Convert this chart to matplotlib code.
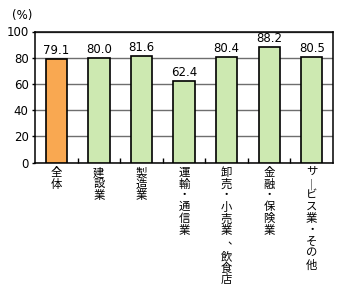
import matplotlib
matplotlib.use("Agg")
import matplotlib.pyplot as plt
import matplotlib.transforms as mtransforms

plt.rcParams['font.family'] = ['Noto Sans CJK JP', 'DejaVu Sans']

categories = ["全体", "建設業", "製造業", "運輸・通信業", "卸売・小売業、飲食店", "金融・保険業", "サービス業・その他"]
values = [79.1, 80.0, 81.6, 62.4, 80.4, 88.2, 80.5]
colors = ["#F9A851", "#CDE9B1", "#CDE9B1", "#CDE9B1", "#CDE9B1", "#CDE9B1", "#CDE9B1"]
yticks = [0, 20, 40, 60, 80, 100]

W, H = 344, 296
fig = plt.figure(figsize=(W / 100, H / 100), dpi=100)
ax = fig.add_axes([35 / W, 1 - 162.5 / H, (333 - 35) / W, (162.5 - 31.5) / H])

x = list(range(len(categories)))
ax.bar(x, values, width=0.5, color=colors, edgecolor="black", linewidth=1.2, zorder=3)
ax.set_xlim(-0.5, len(categories) - 0.5)
ax.set_ylim(0, 100)
ax.set_yticks(yticks)
ax.set_yticklabels([str(v) for v in yticks], fontsize=8.5, family="DejaVu Sans")
ax.yaxis.grid(True, color="#6e6e6e", linewidth=1.0, zorder=0)
ax.set_axisbelow(True)
ax.tick_params(axis="y", direction="out", length=2.5, width=1.0, pad=2, colors="black")
ax.set_xticks([i + 0.5 for i in range(len(categories) - 1)])
ax.set_xticklabels([])
ax.tick_params(axis="x", direction="in", length=3.5, width=1.0)
for s in ax.spines.values():
    s.set_linewidth(1.1)
    s.set_color("black")

for xi, v in zip(x, values):
    ax.annotate(f"{v:.1f}", (xi, v), xytext=(0, 1.5), textcoords="offset points",
                ha="center", va="bottom", fontsize=8.5, family="DejaVu Sans")

# vertical category labels
step = 11.5 * 72 / 100  # points per character line
trans = mtransforms.blended_transform_factory(ax.transData, ax.transAxes)
for xi, lab in zip(x, categories):
    off = 0.0
    for ch in lab:
        glyph = ch
        dx = 0
        if ch == "ー":
            glyph = "｜"
        if ch == "、":
            dx = 5
        ax.annotate(glyph, (xi, 0), xycoords=trans, xytext=(dx, -3.5 - off),
                    textcoords="offset points", ha="center", va="top", fontsize=8.2,
                    annotation_clip=False)
        off += step * (1.3 if ch == "、" else 1.0)

fig.text(12 / W, 1 - 16 / H, "(%)", ha="left", va="center", fontsize=8.5, family="DejaVu Sans")

fig.savefig("out.png", dpi=100)
